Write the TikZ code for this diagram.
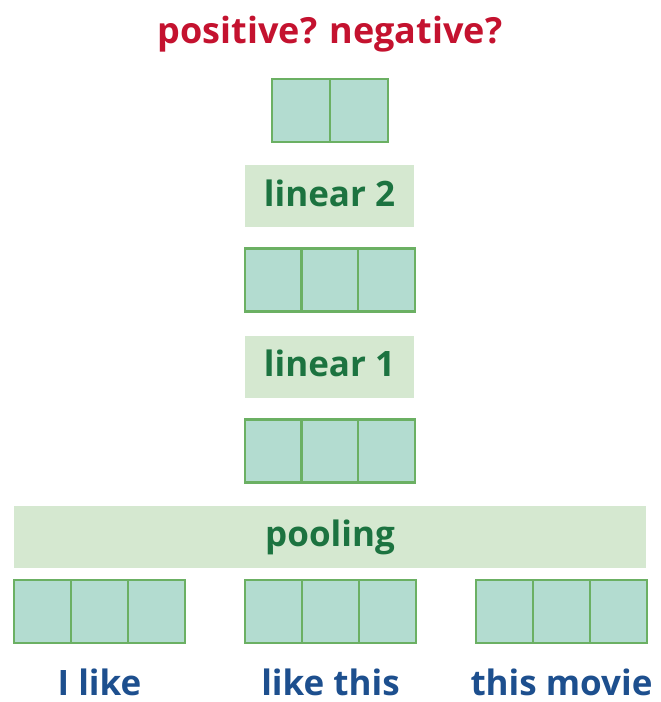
\documentclass[tikz,border=0pt]{standalone}
\usepackage{fontspec}
\setmainfont{Open Sans}
\definecolor{cellfill}{HTML}{B3DCD0}
\definecolor{cellline}{HTML}{6BB063}
\definecolor{opfill}{HTML}{D5E8D0}
\definecolor{optext}{HTML}{1C7340}
\definecolor{outred}{HTML}{C4122F}
\definecolor{wordblue}{HTML}{1D4F8E}
\tikzset{
  cell/.style={draw=cellline, fill=cellfill, line width=2.6pt, minimum width=#1, minimum height=63pt, inner sep=0pt},
  cell/.default=57pt,
  opbox/.style={fill=opfill, minimum height=62pt, inner sep=0pt, text height=20pt, text depth=0pt,
    text=optext, font=\fontsize{35}{35}\selectfont\bfseries},
  word/.style={text=wordblue, font=\fontsize{35}{35}\selectfont\bfseries, anchor=base, inner sep=0pt},
}
\begin{document}
\begin{tikzpicture}[x=1pt,y=-1pt]
\useasboundingbox (0,0) rectangle (661,702);
% output label
\node[text=outred, font=\fontsize{36}{36}\selectfont\bfseries, anchor=base, inner sep=0pt] (out) at (330,43.5) {positive? negative?};
% two-way output vector
\node[cell=58pt] (o1) at (301,110.5) {};
\node[cell=58pt] (o2) at (359,110.5) {};
% linear 2
\node[opbox, minimum width=169pt] (lin2) at (329.5,196) {linear 2};
% hidden vector 2
\foreach \i/\x in {1/273.5, 2/330, 3/386.5}
  \node[cell] (h2\i) at (\x,280) {};
% linear 1
\node[opbox, minimum width=169pt] (lin1) at (329.5,366.5) {linear 1};
% hidden vector 1
\foreach \i/\x in {1/273.5, 2/330, 3/386.5}
  \node[cell] (h1\i) at (\x,451) {};
% pooling
\node[opbox, minimum width=632pt] (pool) at (330,536.5) {pooling};
% n-gram vectors
\foreach \g/\x in {a/14, b/245, c/476}
  \foreach \i in {0,1,2}
    \node[cell] (\g\i) at ({\x+28.5+57*\i},611.5) {};
% n-gram words
\node[word] (wa) at (a1 |- 0,695) {I like};
\node[word] (wb) at (b1 |- 0,695) {like this};
\node[word] (wc) at (c1 |- 0,695) {this movie};
\end{tikzpicture}
\end{document}
